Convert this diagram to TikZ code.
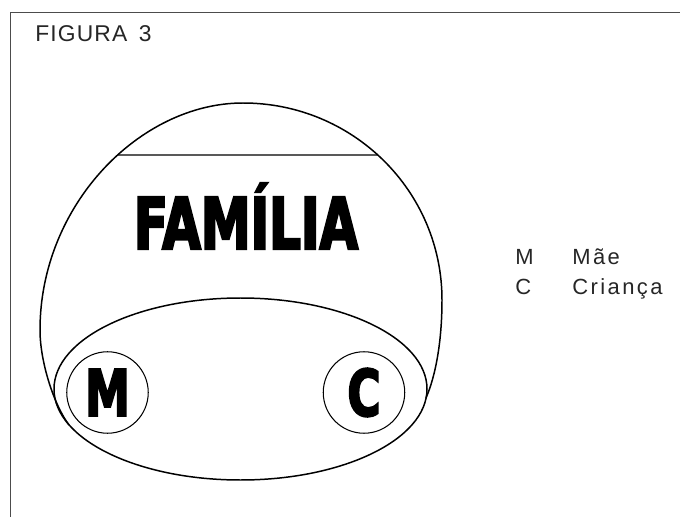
\documentclass[tikz,border=0pt]{standalone}
\usepackage{fontspec}
\setmainfont{Liberation Sans}
\newfontfamily\heavyfont[FakeStretch=0.7,FakeBold=3]{DejaVu Sans}
\newfontfamily\titlefont[LetterSpace=5]{Liberation Sans}
\newfontfamily\keyfont[LetterSpace=11]{Liberation Sans}
\usetikzlibrary{positioning,intersections}

\begin{document}
\begin{tikzpicture}[x=0.02cm, y=-0.02cm]

        \tikzset{
            member/.style={draw, circle, line width=0.6pt, minimum size=1.63cm, inner sep=0pt, font=\heavyfont\bfseries\fontsize{36.6}{37}\selectfont},
            keytext/.style={anchor=base west, inner sep=0pt, text=black!85, font=\keyfont\fontsize{12.5}{14}\selectfont}
        }

        \useasboundingbox (0,0) rectangle (680,517);

        % Frame
        \draw[black!70, line width=0.8pt] (680,12.7) -- (10.7,12.7) -- (10.7,517);
        \node[anchor=base west, inner sep=0pt, text=black!85, font=\titlefont\fontsize{13}{15}\selectfont] (title) at (35,41.5) {FIGURA\hspace{0.5em}3};

        % Family outline
        \draw[name path=outline, line width=0.85pt] (69,425) .. controls (54,405) and (40,362) .. (40,330)
            .. controls (40,205) and (140,103) .. (243,103)
            .. controls (353,103) and (442,191) .. (442,300)
            .. controls (442,340) and (436,375) .. (426,398);
        \path[name path=band] (0,155) -- (680,155);
        \draw[line width=0.6pt, name intersections={of=outline and band, by={band_l,band_r}}] (band_l) -- (band_r);
        \node[anchor=base, inner sep=0pt, font=\heavyfont\bfseries\fontsize{40.6}{41}\selectfont] (familia) at (246,249) {FAMÍLIA};

        % Mother and child
        \draw[line width=0.85pt] (240.5,389) ellipse [x radius=186.5, y radius=91];
        \node[member] (mae) at (107.5,392.5) {M};
        \node[member] (crianca) at (364,392.5) {C};

        % Key
        \node[keytext] (key_m) at (515,264) {M};
        \node[keytext] (key_mae) at (572,264) {Mãe};
        \node[keytext] (key_c) at (515,294) {C};
        \node[keytext] (key_crianca) at (572,294) {Criança};

    \end{tikzpicture}
\end{document}
